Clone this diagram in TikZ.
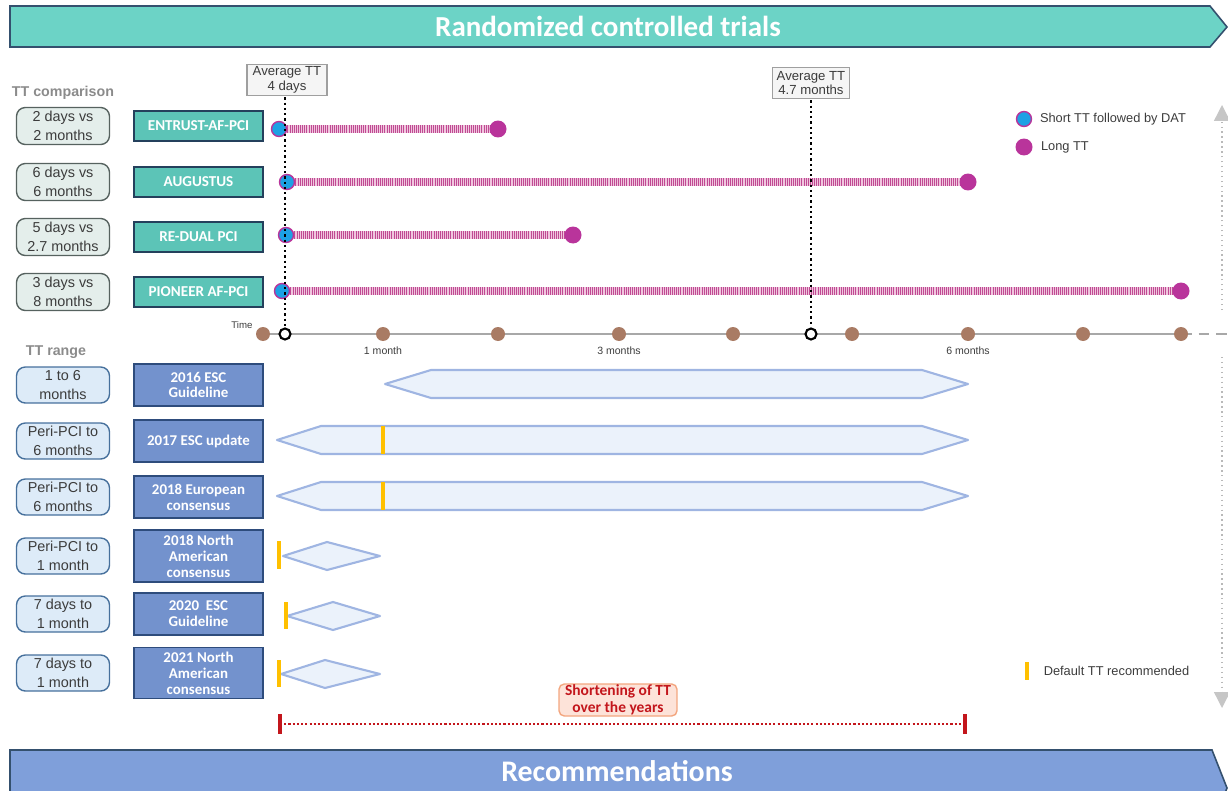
\documentclass[tikz,border=0pt]{standalone}
\usepackage{fontspec}
\setmainfont{Liberation Sans}
\newfontfamily\carlito{Carlito}
\usepackage{tikz}
\usetikzlibrary{shapes}
\usetikzlibrary{positioning}
\usetikzlibrary{arrows.meta}

\definecolor{rctfill}{HTML}{6CD3C6}
\definecolor{rctborder}{HTML}{34506E}
\definecolor{recfill}{HTML}{7F9FDA}
\definecolor{trialfill}{HTML}{5CC4B7}
\definecolor{trialborder}{HTML}{24405C}
\definecolor{cmpfill}{HTML}{E4EEEB}
\definecolor{cmpborder}{HTML}{56625F}
\definecolor{rngfill}{HTML}{DDEBF8}
\definecolor{rngborder}{HTML}{46709C}
\definecolor{guidefill}{HTML}{7392CD}
\definecolor{guideborder}{HTML}{2E4C7C}
\definecolor{hexfill}{HTML}{EBF2FB}
\definecolor{hexborder}{HTML}{9FB5E2}
\definecolor{ttyellow}{HTML}{FFC000}
\definecolor{ttred}{HTML}{C3161C}
\definecolor{shortfill}{HTML}{FDE3D9}
\definecolor{shortborder}{HTML}{F3A67F}
\definecolor{axisgray}{HTML}{A8A8A8}
\definecolor{timebrown}{HTML}{A97B64}
\definecolor{shortblue}{HTML}{1DA1E4}
\definecolor{longpurple}{HTML}{B9349B}
\definecolor{barpink}{HTML}{F0C6DE}
\definecolor{barstripe}{HTML}{C04A93}
\definecolor{headgray}{HTML}{8B8B8B}
\definecolor{darktext}{HTML}{3C3C3C}

\tikzset{every node/.style={inner sep=0pt, outer sep=1pt}}
\tikzset{
  cmpbox/.style={rounded corners=5pt, draw=cmpborder, line width=0.8pt, fill=cmpfill, minimum width=1.86cm, minimum height=0.74cm, align=center, text=darktext, font=\fontsize{8.2}{10.8}\selectfont},
  rngbox/.style={cmpbox, draw=rngborder, fill=rngfill, minimum height=0.72cm},
  trialbox/.style={draw=trialborder, line width=0.9pt, fill=trialfill, minimum width=2.58cm, minimum height=0.6cm, text=white, font=\carlito\bfseries\fontsize{8.6}{10}\selectfont},
  guidebox/.style={trialbox, draw=guideborder, fill=guidefill, minimum height=0.84cm, align=center, font=\carlito\bfseries\fontsize{8.5}{9}\selectfont},
  avgbox/.style={draw=gray!75, line width=1pt, fill=gray!8, minimum width=1.6cm, minimum height=0.62cm, align=center, text=darktext, font=\fontsize{7.5}{8.2}\selectfont},
  shortdot/.style={circle, fill=shortblue, draw=longpurple, line width=0.8pt, minimum size=0.3cm},
  longdot/.style={circle, fill=longpurple, minimum size=0.34cm},
  timedot/.style={circle, fill=timebrown, minimum size=0.28cm},
  opendot/.style={circle, draw=black, line width=1.2pt, fill=white, minimum size=0.22cm},
  ttbar/.style={line width=0.15cm, barpink, postaction={draw=barstripe, line width=0.15cm, dash pattern=on 0.45pt off 0.75pt}},
  avgline/.style={black, line width=1.3pt, dash pattern=on 1.3pt off 1.7pt},
  axisline/.style={axisgray, line width=1.5pt},
  hexbar/.style={draw=hexborder, fill=hexfill, line width=1.2pt, line join=round},
  deftick/.style={ttyellow, line width=2pt},
  shortline/.style={ttred, line width=1.2pt, dash pattern=on 1.2pt off 1.2pt},
  shorttick/.style={ttred, line width=1.8pt},
  shortlabel/.style={rounded corners=3pt, draw=shortborder, fill=shortfill, line width=0.8pt, minimum width=2.36cm, minimum height=0.64cm, align=center, text=ttred, font=\carlito\bfseries\fontsize{8.8}{9.5}\selectfont},
  sidearrow/.style={gray!55, dotted, line width=0.8pt, -{Triangle[width=9pt, length=9pt, color=gray!45]}},
  legtext/.style={text=darktext, font=\fontsize{7.3}{9}\selectfont},
  axislabel/.style={text=darktext, font=\fontsize{6}{7}\selectfont},
  headlabel/.style={text=headgray, font=\bfseries\fontsize{8.1}{10}\selectfont},
  bannertext/.style={text=white, font=\carlito\bfseries\fontsize{16.5}{18}\selectfont}
}

\begin{document}
\begin{tikzpicture}[x=0.02cm, y=-0.02cm]
    \useasboundingbox (0,0) rectangle (1228,791);

    % banners
    \draw[fill=rctfill, draw=rctborder, line width=0.9pt] (10,6) -- (1210,6) -- (1227,27) -- (1210,47) -- (10,47) -- cycle;
    \node[bannertext] (RCT) at (608,26) {Randomized controlled trials};
    \begin{scope}
    \clip (0,0) rectangle (1228,791);
    \draw[fill=recfill, draw=rctborder, line width=0.9pt] (10,750) -- (1212,750) -- (1227,788) -- (1212,826) -- (10,826) -- cycle;
    \end{scope}
    \node[bannertext, font=\carlito\bfseries\fontsize{17}{19}\selectfont] (Rec) at (617,771) {Recommendations};

    % trials
    \node[headlabel] (CmpHead) at (63,93) {TT comparison};
    \node[cmpbox] (Cmp1) at (63,126) {2 days vs\\2 months};
    \node[trialbox, right=0.42cm of Cmp1] (Trial1) {ENTRUST-AF-PCI};
    \node[cmpbox] (Cmp2) at (63,182) {6 days vs\\6 months};
    \node[trialbox, right=0.42cm of Cmp2] (Trial2) {AUGUSTUS};
    \node[cmpbox] (Cmp3) at (63,237) {5 days vs\\2.7 months};
    \node[trialbox, right=0.42cm of Cmp3] (Trial3) {RE-DUAL PCI};
    \node[cmpbox] (Cmp4) at (63,292) {3 days vs\\8 months};
    \node[trialbox, right=0.42cm of Cmp4] (Trial4) {PIONEER AF-PCI};

    \coordinate (S1) at (279,129); \coordinate (L1) at (498,129);
    \coordinate (S2) at (287,182); \coordinate (L2) at (968,182);
    \coordinate (S3) at (286,235); \coordinate (L3) at (573,235);
    \coordinate (S4) at (282,291); \coordinate (L4) at (1181,291);
    \draw[ttbar] (S1) -- (L1);
    \draw[ttbar] (S2) -- (L2);
    \draw[ttbar] (S3) -- (L3);
    \draw[ttbar] (S4) -- (L4);
    \node[shortdot] (S1Dot) at (S1) {}; \node[longdot] (L1Dot) at (L1) {};
    \node[shortdot] (S2Dot) at (S2) {}; \node[longdot] (L2Dot) at (L2) {};
    \node[shortdot] (S3Dot) at (S3) {}; \node[longdot] (L3Dot) at (L3) {};
    \node[shortdot] (S4Dot) at (S4) {}; \node[longdot] (L4Dot) at (L4) {};

    % time axis
    \coordinate (AxisL) at (263,334);
    \coordinate (AxisR) at (1181,334);
    \coordinate (AxisEnd) at (1228,334);
    \draw[axisline] (AxisL) -- (AxisR);
    \draw[axisline, dash pattern=on 6pt off 4pt] (AxisR) -- (AxisEnd);
    \foreach \t [count=\i] in {263,383,498,619,733,852,968,1083,1181}
        \node[timedot] (T\i) at (\t,334) {};
    \node[opendot] (Open1) at (285,334) {};
    \node[opendot] (Open2) at (811,334) {};
    \node[axislabel, font=\fontsize{5.5}{6}\selectfont] (Time) at (242,325) {Time};
    \node[axislabel] (Month1) at (383,351) {1 month};
    \node[axislabel] (Month3) at (619,351) {3 months};
    \node[axislabel] (Month6) at (968,351) {6 months};

    \node[avgbox] (Avg1) at (287,80) {Average TT\\4 days};
    \node[avgbox, minimum width=1.54cm] (Avg2) at (811,83) {Average TT\\4.7 months};
    \draw[avgline] (Avg1.south -| Open1) -- (Open1.north);
    \draw[avgline] (Avg2.south -| Open2) -- (Open2.north);

    % legend
    \node[shortdot] (LegS) at (1024,119) {};
    \node[legtext, right=0.1cm of LegS] (LegSText) {Short TT followed by DAT};
    \node[longdot] (LegL) at (1024,147) {};
    \node[legtext, right=0.1cm of LegL] (LegLText) {Long TT};

    % recommendations
    \node[headlabel] (RngHead) at (56,352) {TT range};
    \node[rngbox] (Rng1) at (63,385) {1 to 6\\months};
    \node[guidebox, right=0.42cm of Rng1] (Guide1) {2016 ESC\\Guideline};
    \node[rngbox] (Rng2) at (63,441) {Peri-PCI to\\6 months};
    \node[guidebox, right=0.42cm of Rng2] (Guide2) {2017 ESC update};
    \node[rngbox] (Rng3) at (63,497) {Peri-PCI to\\6 months};
    \node[guidebox, right=0.42cm of Rng3] (Guide3) {2018 European\\consensus};
    \node[rngbox] (Rng4) at (63,556) {Peri-PCI to\\1 month};
    \node[guidebox, minimum height=1.04cm, right=0.42cm of Rng4] (Guide4) {2018 North\\American\\consensus};
    \node[rngbox] (Rng5) at (63,614) {7 days to\\1 month};
    \node[guidebox, right=0.42cm of Rng5] (Guide5) {2020\ \ ESC\\Guideline};
    \node[rngbox] (Rng6) at (63,673) {7 days to\\1 month};
    \node[guidebox, minimum height=1.02cm, right=0.42cm of Rng6] (Guide6) {2021 North\\American\\consensus};

    \draw[hexbar] (385,384) -- (431,370) -- (922,370) -- (968,384) -- (922,398) -- (431,398) -- cycle;
    \draw[hexbar] (277,440) -- (321,426) -- (922,426) -- (968,440) -- (922,454) -- (321,454) -- cycle;
    \draw[deftick] (383,426) -- (383,454);
    \draw[hexbar] (277,496) -- (321,482) -- (922,482) -- (968,496) -- (922,510) -- (321,510) -- cycle;
    \draw[deftick] (383,482) -- (383,510);
    \draw[hexbar] (283,556) -- (327,542) -- (380,556) -- (327,570) -- cycle;
    \draw[deftick] (279,541) -- (279,569);
    \draw[hexbar] (287,616) -- (333,602) -- (380,616) -- (333,630) -- cycle;
    \draw[deftick] (286,602) -- (286,629);
    \draw[hexbar] (281,674) -- (325,660) -- (380,674) -- (325,688) -- cycle;
    \draw[deftick] (279,660) -- (279,687);

    \coordinate (DefTop) at (1027,662);
    \coordinate (DefBot) at (1027,680);
    \draw[deftick] (DefTop) -- (DefBot);
    \node[legtext, anchor=west] (DefText) at (1042,671) {Default TT recommended};

    % shortening
    \coordinate (ShortL) at (280,724);
    \coordinate (ShortR) at (965,724);
    \draw[shortline] (ShortL) -- (ShortR);
    \draw[shorttick] (280,714) -- (280,734);
    \draw[shorttick] (965,714) -- (965,734);
    \node[shortlabel] (Short) at (618,700) {Shortening of TT\\over the years};

    \coordinate (SideTop) at (1222,105);
    \coordinate (SideA) at (1222,310);
    \coordinate (SideB) at (1222,357);
    \coordinate (SideBot) at (1222,708);
    \draw[sidearrow] (SideA) -- (SideTop);
    \draw[sidearrow] (SideB) -- (SideBot);

\end{tikzpicture}
\end{document}
